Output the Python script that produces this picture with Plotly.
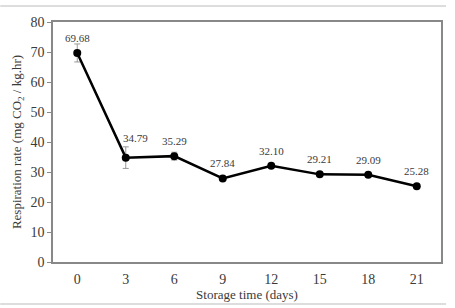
import plotly.graph_objects as go

days = ["0", "3", "6", "9", "12", "15", "18", "21"]
rates = [69.68, 34.79, 35.29, 27.84, 32.10, 29.21, 29.09, 25.28]
labels = ["69.68", "34.79", "35.29", "27.84", "32.10", "29.21", "29.09", "25.28"]
errors = [3.0, 3.6, 1.3, 0.5, 0.6, 0.5, 0.5, 0.5]
y_ticks = [0, 10, 20, 30, 40, 50, 60, 70, 80]

font_family = "Liberation Serif, Times New Roman, serif"
text_color = "#3a3a3a"

fig = go.Figure()
fig.add_trace(go.Scatter(
    x=days, y=rates,
    mode="lines+markers",
    line=dict(color="black", width=2.5),
    marker=dict(color="black", size=8),
    error_y=dict(type="data", array=errors, visible=True,
                 color="#999999", thickness=1, width=3),
    showlegend=False,
    hoverinfo="skip",
))

for i, (r, lab) in enumerate(zip(rates, labels)):
    shift_x, shift_y = (10, 20) if i == 1 else (0, 15)
    fig.add_annotation(x=i, y=r, xref="x", yref="y", text=lab, showarrow=False,
                       xshift=shift_x, yshift=shift_y,
                       font=dict(family=font_family, size=11, color=text_color))

# light frame lines of the original figure image
fig.add_shape(type="line", xref="paper", yref="paper",
              x0=-0.136, x1=1.013, y0=1.067, y1=1.067,
              line=dict(color="#dddddd", width=2))
fig.add_shape(type="line", xref="paper", yref="paper",
              x0=-0.136, x1=1.013, y0=-0.175, y1=-0.175,
              line=dict(color="#dddddd", width=2))

fig.update_layout(
    width=455, height=308,
    margin=dict(l=53, r=12, t=22, b=46),
    paper_bgcolor="white", plot_bgcolor="white",
    font=dict(family=font_family, size=13, color=text_color),
    xaxis=dict(
        type="category", categoryorder="array", categoryarray=days,
        range=[-0.5, len(days) - 0.5], automargin=False,
        title=dict(text="Storage time (days)", font=dict(size=13), standoff=2),
        showgrid=False, showline=True, linecolor="#888888", linewidth=1.5,
        mirror=True, ticks="", tickfont=dict(size=14), ticklabelstandoff=3,
    ),
    yaxis=dict(
        range=[0, 80], tickvals=y_ticks,
        title=dict(text="Respiration rate (mg CO<sub>2</sub> / kg.hr)",
                   font=dict(size=13), standoff=6),
        showgrid=False, zeroline=False, showline=True, linecolor="#888888",
        linewidth=1.5, mirror=True, ticks="outside", ticklen=4,
        tickcolor="#888888", tickfont=dict(size=14),
    ),
)

fig.write_html("out.html")
